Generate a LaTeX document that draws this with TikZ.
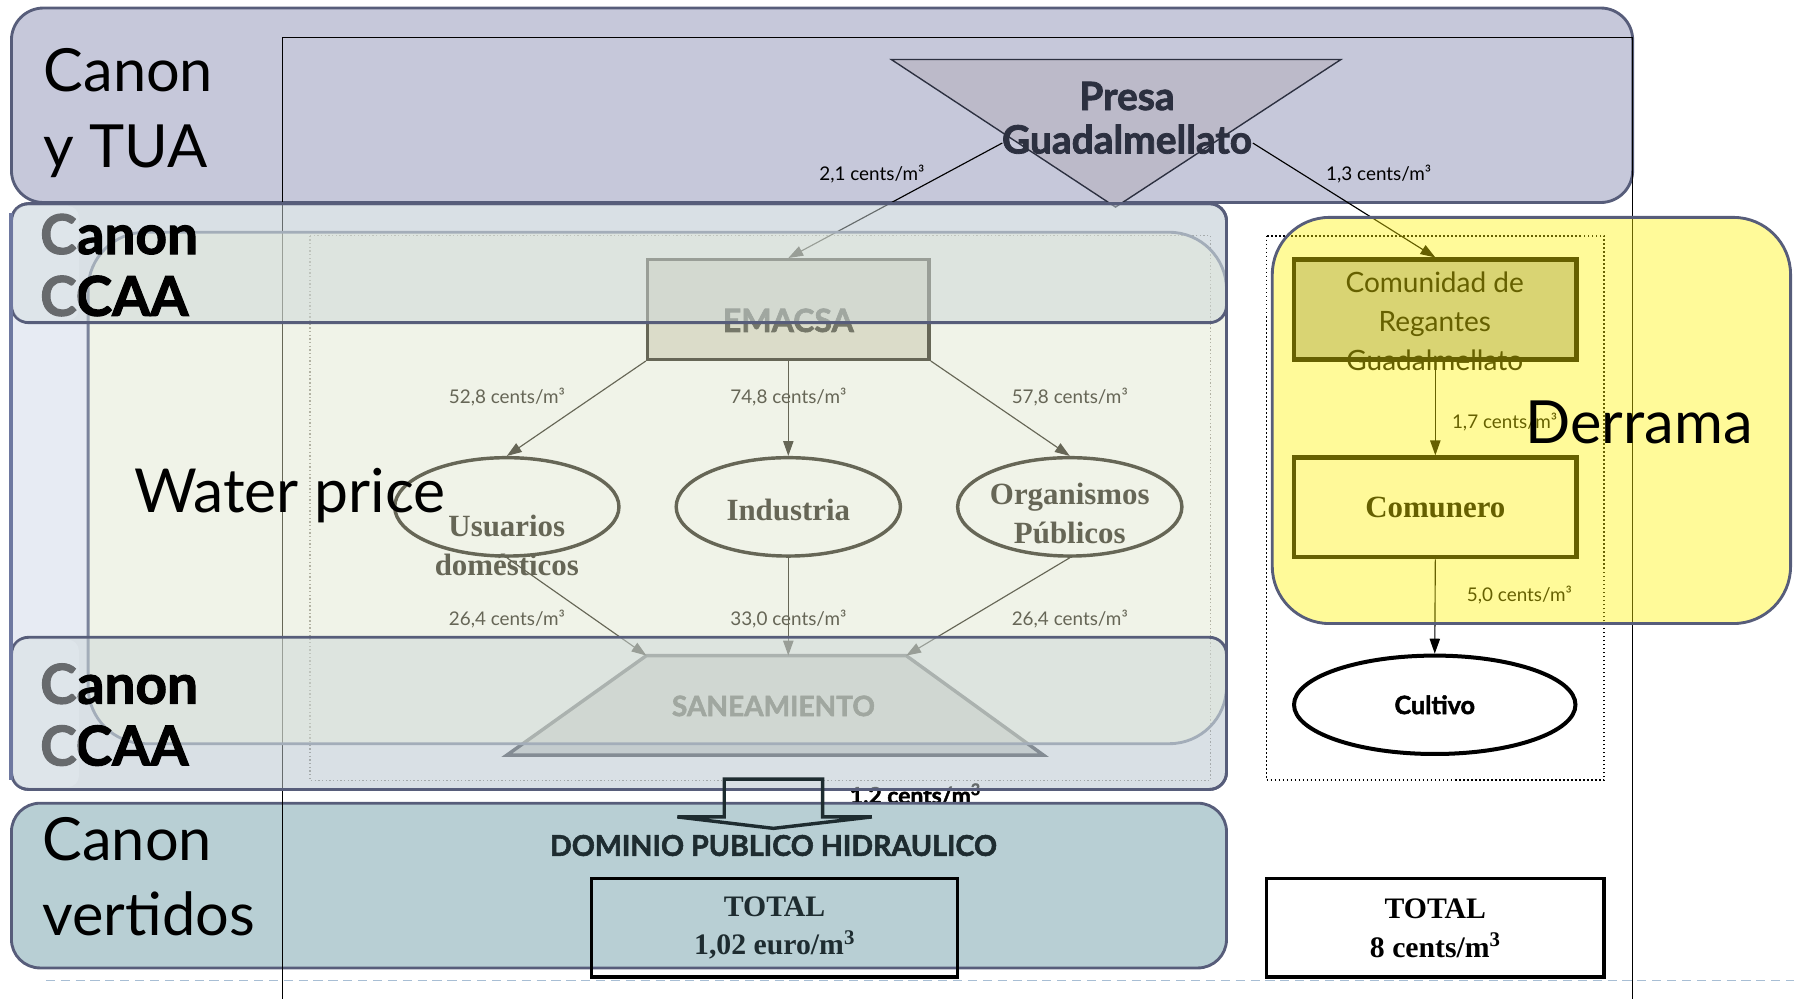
\documentclass[tikz,border=0pt]{standalone}
\usepackage{fontspec}
\setmainfont{Lato}
\newfontfamily\serifb{Liberation Serif}
\newfontfamily\heavy{Lato}[BoldFeatures={FakeBold=2}]
\usetikzlibrary{arrows.meta,shapes.geometric}
\definecolor{tuafill}{HTML}{C6C8DA}
\definecolor{edgecol}{HTML}{575D7A}
\definecolor{ccaafill}{HTML}{E7EBF3}
\definecolor{wpfill}{HTML}{FFFFD8}
\definecolor{wpedge}{HTML}{7B839B}
\definecolor{bandfill}{HTML}{CCD7D8}
\definecolor{vertfill}{HTML}{B8CFD4}
\definecolor{trifill}{HTML}{BCBAC9}
\definecolor{navy}{HTML}{2C3040}
\definecolor{emfill}{HTML}{C3C6C0}
\definecolor{emtext}{HTML}{1A1D20}
\definecolor{trapfill}{HTML}{BCC1C4}
\definecolor{trapedge}{HTML}{3C4250}
\definecolor{dpht}{HTML}{1E2C30}
\definecolor{dashcol}{HTML}{A8BED4}
\definecolor{leftedge}{HTML}{6E78A0}
\definecolor{comfill}{HTML}{C0C0C0}
\definecolor{veil}{HTML}{E6ECF2}
\begin{document}
\begin{tikzpicture}[x=1pt,y=-1pt,
  lbl/.style={font=\fontsize{16.5}{16.5}\selectfont, inner sep=0pt},
  bigtxt/.style={font=\fontsize{52}{52}\selectfont, anchor=base west, inner sep=0pt},
  bigbold/.style={font=\heavy\bfseries\fontsize{48}{48}\selectfont, anchor=base west, inner sep=0pt},
  arr/.style={-{Triangle[length=13pt,width=9pt]}, line width=1pt},
  ellnode/.style={ellipse, draw=black, line width=3pt, minimum width=196pt, minimum height=86pt, inner sep=0pt},
  serifbold/.style={font=\serifb\bfseries\fontsize{27}{34}\selectfont, align=center, inner sep=0pt},
  boxnode/.style={draw=black, minimum width=247pt, minimum height=87pt, inner sep=0pt}
]
\useasboundingbox (0,0) rectangle (1568,873);

% --- Canon y TUA band
\draw[fill=tuafill, draw=edgecol, line width=2.5pt, rounded corners=28pt] (10,7) rectangle (1427,177);
% --- Canon CCAA background
\fill[ccaafill, rounded corners=15pt] (10,178) rectangle (1072,690);
% label partly hidden by vertidos box
\node[font=\heavy\bfseries\fontsize{20}{20}\selectfont, inner sep=0pt] (l12) at (800,695) {1,2 cents/m\textsuperscript{3}};
% --- Canon vertidos band
\draw[fill=vertfill, draw=edgecol, line width=2.5pt, rounded corners=25pt] (10,702) rectangle (1072,846);

% --- frame
\draw[black, line width=1.2pt] (247,873) -- (247,33) -- (1427,33) -- (1427,873);

% --- Presa triangle
\draw[fill=trifill, draw=navy, line width=1.2pt] (779,52) -- (1172,52) -- (975,181) -- cycle;

% --- left dotted frame
\draw[gray, dotted, line width=1.2pt] (271,206) rectangle (1058,682);

% --- EMACSA
\node[boxnode, line width=3pt, fill=emfill, minimum width=246pt] (emacsa) at (689,270.5) {};
\node[font=\heavy\bfseries\fontsize{28}{28}\selectfont, text=emtext, inner sep=0pt] (emtxt) at (689,280) {EMACSA};

% --- ellipses
\node[ellnode] (usu) at (443,443) {};
\node[serifbold] (usutxt) at (443,477) {Usuarios\\domésticos};
\node[ellnode] (ind) at (689,443) {};
\node[serifbold] (indtxt) at (689,446) {Industria};
\node[ellnode] (org) at (935,443) {};
\node[serifbold] (orgtxt) at (935,449) {Organismos\\Públicos};

% --- SANEAMIENTO trapezoid
\coordinate (sanL) at (565,573);
\coordinate (sanM) at (689,573);
\coordinate (sanR) at (792,573);
\coordinate (sanBR) at (912,660);
\coordinate (sanBL) at (443,660);
\draw[fill=trapfill, draw=trapedge, line width=3pt] (sanL) -- (sanR) -- (sanBR) -- (sanBL) -- cycle;
\node[font=\heavy\bfseries\fontsize{24.5}{24.5}\selectfont, text=emtext, inner sep=0pt] (san) at (676,617) {SANEAMIENTO};

% --- arrows (left)
\coordinate (pL) at (876,125);
\coordinate (pR) at (1095,125);
\draw[arr, black] (pL) -- (emacsa.north);
\draw[arr, black] (emacsa.south west) -- (usu.north);
\draw[arr, black] (emacsa.south) -- (ind.north);
\draw[arr, black] (emacsa.south east) -- (org.north);
\draw[arr, black] (usu.south) -- (sanL);
\draw[arr, black] (ind.south) -- (sanM);
\draw[arr, black] (org.south) -- (sanR);

\node[lbl] (l21) at (762,152) {2,1 cents/m³};
\node[lbl] (l528) at (443,347) {52,8 cents/m³};
\node[lbl] (l748) at (689,347) {74,8 cents/m³};
\node[lbl] (l578) at (935,347) {57,8 cents/m³};
\node[lbl] (l264a) at (443,541) {26,4 cents/m³};
\node[lbl] (l330) at (689,541) {33,0 cents/m³};
\node[lbl] (l264b) at (935,541) {26,4 cents/m³};

% --- Water price overlay
\draw[fill=wpfill, fill opacity=0.4, draw=wpedge, line width=2.5pt, rounded corners=50pt] (77,203) rectangle (1072,650);
% --- CCAA bands
\draw[fill=bandfill, fill opacity=0.5, draw=edgecol, line width=2.5pt, rounded corners=15pt] (10,178) rectangle (1072,282);
\draw[fill=bandfill, fill opacity=0.5, draw=edgecol, line width=2.5pt, rounded corners=15pt] (10,557) rectangle (1072,690);
\draw[edgecol, line width=2.5pt, rounded corners=15pt] (10,178) rectangle (1072,690);
\draw[leftedge, line width=3.5pt] (10,186) -- (10,682);

% --- Presa text
\node[font=\heavy\bfseries\fontsize{34}{38}\selectfont, text=navy, align=center, inner sep=0pt] (presa) at (985,103) {Presa\\Guadalmellato};

% --- big side texts
\node[bigtxt] (tua1) at (38,80) {Canon};
\node[bigtxt] (tua2) at (38,146) {y TUA};
\node[bigbold] (cca1) at (35,222) {Canon};
\node[bigbold] (cca2) at (35,276) {CCAA};
\node[bigbold] (ccb1) at (35,615) {Canon};
\node[bigbold] (ccb2) at (35,669) {CCAA};
\fill[veil, fill opacity=0.45, rounded corners=10pt] (12,180) rectangle (69,280);
\fill[veil, fill opacity=0.45, rounded corners=10pt] (12,559) rectangle (69,688);
\node[bigtxt] (cv1) at (37,752) {Canon};
\node[bigtxt] (cv2) at (37,818) {vertidos};
\node[font=\fontsize{53}{53}\selectfont, anchor=base west, inner sep=0pt] (wp) at (117,448) {Water price};

% --- DPH + hollow arrow
\node[font=\heavy\bfseries\fontsize{25}{25}\selectfont, text=dpht, inner sep=0pt] (dph) at (676,739) {DOMINIO PUBLICO HIDRAULICO};
\draw[dpht, line width=3pt, line join=miter] (633,681) -- (719,681) -- (719,714) -- (762,714) -- (676,724) -- (592,714) -- (633,714) -- cycle;

% --- TOTAL boxes
\node[draw=black, line width=3pt, minimum width=320pt, minimum height=86pt, align=center, text=dpht,
      font=\serifb\bfseries\fontsize{26}{34}\selectfont] (tot1) at (677,811) {TOTAL\\1,02 euro/m\textsuperscript{3}};
\node[draw=black, line width=3pt, minimum width=295pt, minimum height=86pt, align=center, text=black,
      font=\serifb\bfseries\fontsize{26}{34}\selectfont] (tot2) at (1254.5,811) {TOTAL\\8 cents/m\textsuperscript{3}};

% --- right side
\draw[black, dotted, line width=1.5pt] (1107,206) rectangle (1402,682);
\node[boxnode, line width=4pt, fill=comfill] (com) at (1254.5,270.5) {};
\node[font=\fontsize{24.5}{34}\selectfont, align=center, inner sep=0pt] (comt) at (1254,281) {Comunidad de\\Regantes\\Guadalmellato};
\node[boxnode, line width=4pt, fill=white, font=\serifb\bfseries\fontsize{27}{27}\selectfont] (cmr) at (1254.5,443.5) {Comunero};
\node[ellipse, draw=black, line width=3.5pt, minimum width=246pt, minimum height=86pt, inner sep=0pt,
      font=\heavy\bfseries\fontsize{22}{22}\selectfont] (cul) at (1254,616) {Cultivo};
\draw[arr, black] (pR) -- (com.north);
\draw[arr, black] (com.south) -- (cmr.north);
\draw[arr, black] (cmr.south) -- (cul.north);
\node[lbl] (l13) at (1205,152) {1,3 cents/m³};
\node[lbl] (l17) at (1315,369) {1,7 cents/m³};
\node[lbl] (l50) at (1328,520) {5,0 cents/m³};

% --- Derrama overlay
\draw[fill=yellow, fill opacity=0.4, draw=edgecol, line width=2.5pt, rounded corners=50pt] (1112,190) rectangle (1565,545);
\node[font=\fontsize{52}{52}\selectfont, anchor=base west, inner sep=0pt] (derr) at (1333,388) {Derrama};

% --- bottom dashed rule
\draw[dashcol, line width=1.2pt, dash pattern=on 8pt off 5pt] (40,857) -- (1568,857);
\end{tikzpicture}
\end{document}
